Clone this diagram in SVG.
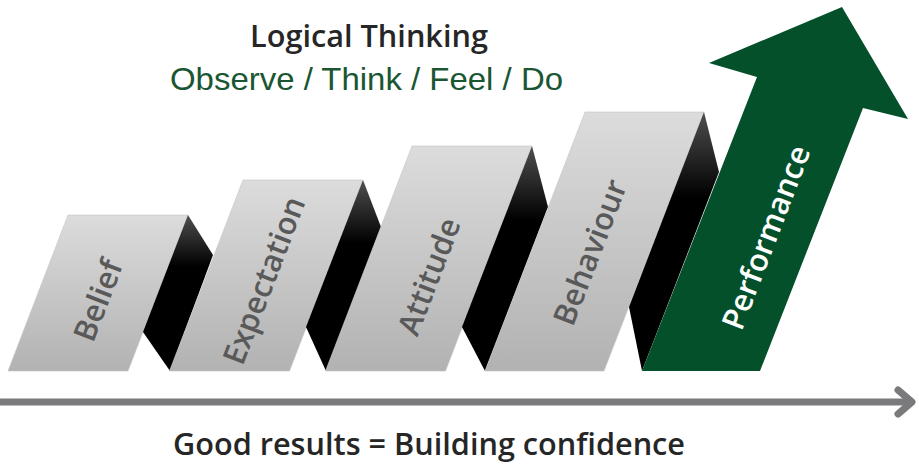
<svg xmlns="http://www.w3.org/2000/svg" width="919" height="464" viewBox="0 0 919 464">
<defs>
<linearGradient id="lightG" x1="0" y1="0" x2="0" y2="1">
<stop offset="0" stop-color="#dcdcdc"/>
<stop offset="1" stop-color="#b2b2b2"/>
</linearGradient>
<linearGradient id="darkG" x1="0" y1="0" x2="0" y2="1">
<stop offset="0" stop-color="#4f4f4f"/>
<stop offset="0.33" stop-color="#000000"/>
<stop offset="1" stop-color="#000000"/>
</linearGradient>
<style>
.light{fill:url(#lightG);stroke:#c4c4c4;stroke-width:0.6}
.dark{fill:url(#darkG)}
.lbl{font-family:"Open Sans","Liberation Sans",sans-serif;font-weight:600;font-size:31px;fill:#595959;text-anchor:middle;dominant-baseline:central}
.title{font-family:"Open Sans","Liberation Sans",sans-serif;font-weight:600;font-size:30px;fill:#262626}
.sub{font-family:"Liberation Sans","Open Sans",sans-serif;font-size:32px;fill:#1a5632}
</style>
</defs>
<g id="title">
<text class="title" x="250" y="47" textLength="238" lengthAdjust="spacingAndGlyphs">Logical Thinking</text>
<text class="sub" x="170" y="90" textLength="393" lengthAdjust="spacingAndGlyphs">Observe / Think / Feel / Do</text>
</g>
<g id="belief">
<polygon class="light" points="68,215 188,215 128,371 8,371"/>
<polygon class="dark" points="188,215 213,255 170,371 143,332"/>
<text class="lbl" transform="translate(97,300) rotate(-69)">Belief</text>
</g>
<g id="expectation">
<polygon class="light" points="243,180 363,180 289.5,371 169.5,371"/>
<polygon class="dark" points="363,180 381,227 326,371 306,327"/>
<text class="lbl" transform="translate(263,280) rotate(-69)">Expectation</text>
</g>
<g id="attitude">
<polygon class="light" points="412,146 532,146 445.5,371 325.5,371"/>
<polygon class="dark" points="532,146 548,207 485,371 462,327"/>
<text class="lbl" transform="translate(428,276) rotate(-69)">Attitude</text>
</g>
<g id="behaviour">
<polygon class="light" points="585,112 704,112 604,371 485,371"/>
<polygon class="dark" points="704,112 719,172 642,371 629,307"/>
<text class="lbl" transform="translate(589,252) rotate(-69)">Behaviour</text>
</g>
<g id="performance">
<polygon fill="#03502b" points="642,371 760,371 863,108 908,119 842,7 709,63 757,77"/>
<text class="lbl" style="fill:#ffffff" transform="translate(765,237) rotate(-69)">Performance</text>
</g>
<g id="connectors">
<line x1="0" y1="402" x2="911" y2="402" stroke="#7a7a7c" stroke-width="7"/>
<polyline points="898,390 912,402 898,414" fill="none" stroke="#7a7a7c" stroke-width="7" stroke-linecap="round" stroke-linejoin="round"/>
</g>
<g id="footer">
<text class="title" x="173" y="455" font-size="29" textLength="512" lengthAdjust="spacingAndGlyphs">Good results = Building confidence</text>
</g>
</svg>
